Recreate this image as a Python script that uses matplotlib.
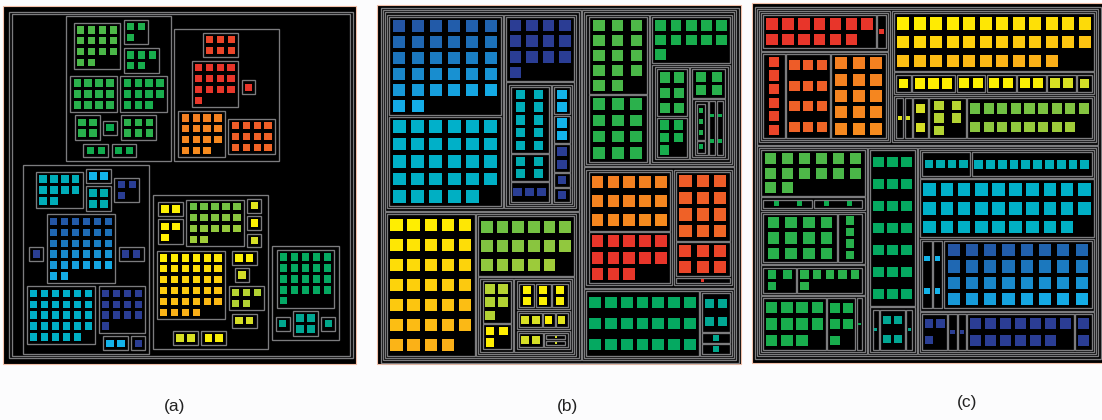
import math
import numpy as np
import matplotlib.pyplot as plt
from matplotlib.colors import LinearSegmentedColormap
from matplotlib.patches import Rectangle

# groups of items: name, number of items, colour value of first / last item
group_names = ['r13', 'r1', 'r6', 'o12', 'o15',
               'y34', 'lg17', 'yg5', 'y3', 'y2a', 'y2b', 'y2c', 'yg2a', 'y1', 'yg1a', 'yg2b', 'yg1b', 'yg1c',
               'g14', 'g12', 'g11', 'g6', 'g5', 'g4', 'g3', 'g2a', 'g2b', 'g1',
               't21', 't4', 't1a', 't1b',
               'b32', 'c29', 'i13', 'c10', 't4b', 'i3', 's2a', 's2b', 'i2', 'i1a', 'i1b']
group_counts = [13, 1, 6, 12, 15,
                34, 17, 5, 3, 2, 2, 2, 2, 1, 1, 2, 1, 1,
                14, 12, 11, 6, 5, 4, 3, 2, 2, 1,
                21, 4, 1, 1,
                32, 29, 13, 10, 4, 3, 2, 2, 2, 1, 1]
group_value_first = [0.0, 0.0, 0.035, 0.075, 0.13,
                     0.285, 0.46, 0.385, 0.285, 0.29, 0.29, 0.295, 0.345, 0.29, 0.335, 0.35, 0.35, 0.355,
                     0.485, 0.525, 0.545, 0.525, 0.55, 0.53, 0.54, 0.555, 0.56, 0.565,
                     0.585, 0.635, 0.63, 0.625,
                     0.895, 0.718, 0.94, 0.69, 0.675, 0.93, 0.78, 0.785, 0.935, 0.93, 0.935]
group_value_last = [0.005, 0.0, 0.035, 0.09, 0.15,
                    0.21, 0.41, 0.39, 0.285, 0.29, 0.29, 0.3, 0.345, 0.29, 0.335, 0.35, 0.35, 0.355,
                    0.49, 0.53, 0.55, 0.525, 0.55, 0.53, 0.54, 0.555, 0.56, 0.565,
                    0.59, 0.635, 0.63, 0.625,
                    0.79, 0.705, 0.935, 0.69, 0.675, 0.93, 0.78, 0.785, 0.935, 0.93, 0.935]

panel_labels = ['(a)', '(b)', '(c)']

counts = dict(zip(group_names, group_counts))
vfirst = dict(zip(group_names, group_value_first))
vlast = dict(zip(group_names, group_value_last))

spectrum = LinearSegmentedColormap.from_list('spectrum', [
    '#e8352a', '#ee5a28', '#f5871f', '#fbb317', '#fff100', '#d0dc2a', '#8cc63f', '#3fb54a',
    '#06a94f', '#00a79b', '#00b0c8', '#13b3ec', '#1c72ba', '#2a3f94', '#2e3192'])

LINE = '#7c7c7e'
LW = 0.95


def H(*kids, align=0.5, box=True):
    return ('h', kids, align, box)


def V(*kids, align=0.5, box=True):
    return ('v', kids, align, box)


def node_count(node):
    if isinstance(node, str):
        return counts[node]
    return sum(node_count(k) for k in node[1])


def draw_box(ax, x, y, w, h):
    ax.add_patch(Rectangle((x, y), w, h, fill=False, ec=LINE, lw=LW))


def draw_items(ax, name, x, y, w, h, frac):
    n = counts[name]
    best = None
    for c in range(1, n + 1):
        r = math.ceil(n / c)
        cell = min(w / c, h / r)
        if best is None or cell >= best[0] - 1e-9:
            best = (cell, c, r)
    cell, c, r = best
    cw, ch = w / c, h / r
    s = frac * min(cw, ch)
    vals = np.linspace(vfirst[name], vlast[name], n)
    for i in range(n):
        cx = x + (i % c + 0.5) * cw
        cy = y + (i // c + 0.5) * ch
        ax.add_patch(Rectangle((cx - s / 2, cy - s / 2), s, s, fc=spectrum(vals[i]), ec='none'))


# --- treemap (panels b and c) ---
PAD = 2.2
GAP = 1.3
LEAF_PAD = 1.0


def treemap(ax, node, x, y, w, h):
    draw_box(ax, x, y, w, h)
    if isinstance(node, str):
        draw_items(ax, node, x + LEAF_PAD, y + LEAF_PAD, w - 2 * LEAF_PAD, h - 2 * LEAF_PAD, 0.74)
        return
    kind, kids = node[0], node[1]
    ix, iy, iw, ih = x + PAD, y + PAD, w - 2 * PAD, h - 2 * PAD
    weights = [node_count(k) for k in kids]
    total = sum(weights)
    span = (iw if kind == 'h' else ih) - GAP * (len(kids) - 1)
    pos = ix if kind == 'h' else iy
    for k, wt in zip(kids, weights):
        size = span * wt / total
        if kind == 'h':
            treemap(ax, k, pos, iy, size, ih)
        else:
            treemap(ax, k, ix, pos, iw, size)
        pos += size + GAP


# --- free flow layout (panel a) ---
PITCH = 11.0
A_LEAF_PAD = 1.5
A_PAD = 4.0
A_GAP = 3.5


def natural(node):
    if isinstance(node, str):
        n = counts[node]
        c = math.ceil(math.sqrt(n))
        r = math.ceil(n / c)
        return c * PITCH + 2 * A_LEAF_PAD, r * PITCH + 2 * A_LEAF_PAD
    kind, kids, align, boxed = node
    sizes = [natural(k) for k in kids]
    if kind == 'h':
        w = sum(s[0] for s in sizes) + A_GAP * (len(kids) - 1)
        h = max(s[1] for s in sizes)
    else:
        w = max(s[0] for s in sizes)
        h = sum(s[1] for s in sizes) + A_GAP * (len(kids) - 1)
    if boxed:
        w += 2 * A_PAD
        h += 2 * A_PAD
    return w, h


def flow(ax, node, x, y, s):
    w, h = natural(node)
    if isinstance(node, str):
        draw_box(ax, x, y, w * s, h * s)
        p = A_LEAF_PAD * s
        draw_items(ax, node, x + p, y + p, w * s - 2 * p, h * s - 2 * p, 0.68)
        return
    kind, kids, align, boxed = node
    pad = A_PAD * s if boxed else 0.0
    if boxed:
        draw_box(ax, x, y, w * s, h * s)
    ix, iy = x + pad, y + pad
    iw, ih = w * s - 2 * pad, h * s - 2 * pad
    pos = ix if kind == 'h' else iy
    for k in kids:
        kw, kh = natural(k)
        if kind == 'h':
            flow(ax, k, pos, iy + (ih - kh * s) * align, s)
            pos += (kw + A_GAP) * s
        else:
            flow(ax, k, ix + (iw - kw * s) * align, pos, s)
            pos += (kh + A_GAP) * s


# layouts
A_C2 = V(H('g14', V('g3', 'g5', align=0, box=False), box=False),
         H('g12', 'g11', align=0, box=False),
         H('g4', 'g1', 'g6', box=False),
         H('g2a', 'g2b', box=False), align=0.3)
A_C3 = V('r6', H('r13', 'r1', align=0.6, box=False), H('o15', 'o12', align=0.7, box=False), align=0.4)
A_C1 = V(H('c10', V('s2a', 't4b', align=0.3, box=False), 'i3', box=False),
         H('i1a', 'b32', 'i2', align=0.6, box=False),
         H('c29', V('i13', H('s2b', 'i1b', box=False), align=1, box=False), align=0, box=False),
         align=0.6)
A_C4 = V(H(V('y2a', 'y3', align=0.3, box=False), 'lg17', V('yg1a', 'y1', 'yg1b', box=False), box=False),
         H('y34', V('y2b', 'yg1c', 'yg5', 'yg2b', align=0.3, box=False), align=0, box=False),
         H('yg2a', 'y2c', box=False), align=0.3)
A_C5 = V('t21', H('t1a', 't4', 't1b', box=False))
LAYOUT_A = V(H(A_C2, A_C3, align=1, box=False), H(A_C1, A_C4, A_C5, align=0.85, box=False),
             align=0.42, box=False)

B_C1 = H(V('b32', 'c29'), V('i13', H(V('c10', 't4b', 'i3'), V('s2a', 's2b', 'i2', 'i1a', 'i1b'))))
B_C4 = H('y34', V('lg17', H(V('yg5', 'y3'), V(H('y2a', 'y2b', 'y2c'), H('yg2a', 'y1', 'yg1a'),
                                              H('yg2b', V('yg1b', 'yg1c'))))))
B_C2 = H(V('g14', 'g12'), V('g11', H(V('g6', 'g5'), V('g4', H(V('g3', 'g1'), 'g2a', 'g2b')))))
B_C3 = H(V('o15', 'r13'), V('o12', 'r6', 'r1'))
B_C5 = H('t21', V('t4', 't1a', 't1b'))
LAYOUT_B = H(V(B_C1, B_C4), V(B_C2, B_C3, B_C5))

C_C3 = V(H('r13', 'r1'), H('r6', 'o12', 'o15'))
C_C4 = V('y34', H('y1', 'y3', 'y2a', 'y2b', 'y2c', 'yg2a', 'yg1c'), H('yg1a', 'yg1b', 'yg2b', 'yg5', 'lg17'))
C_C2 = V('g14', H('g2a', 'g2b'), H('g12', 'g4'), H('g3', 'g6'), H('g11', 'g5', 'g1'))
C_C5 = V('t21', H('t1a', 't4', 't1b'))
C_C1 = V(H('t4b', 'c10'), 'c29', H('s2a', 's2b', 'b32'), H('i3', 'i1a', 'i1b', 'i13', 'i2'))
LAYOUT_C = V(H(C_C3, C_C4), H(C_C2, C_C5, C_C1))

fig = plt.figure(figsize=(11.02, 4.2), dpi=100, facecolor='#fcfcfd')
ax = fig.add_axes([0, 0, 1, 1])
ax.set_xlim(0, 1102)
ax.set_ylim(420, 0)
ax.axis('off')

# black panel backgrounds
for (x0, y0, x1, y1) in [(3, 6, 356, 364), (377, 5, 741, 364), (752, 3, 1106, 363)]:
    ax.add_patch(Rectangle((x0, y0), x1 - x0, y1 - y0, fc='black', ec='#f2bfa8', lw=0.8))

# panel a
bx, by, bw, bh = 9.3, 11.7, 343.4, 346.6
draw_box(ax, bx, by, bw, bh)
draw_box(ax, bx + 2.4, by + 2.4, bw - 4.8, bh - 4.8)
W, Hh = natural(LAYOUT_A)
sc = min((bw - 8) / W, (bh - 8) / Hh)
flow(ax, LAYOUT_A, bx + (bw - W * sc) / 2, by + (bh - Hh * sc) / 2, sc)

# panels b and c
treemap(ax, LAYOUT_B, 380.5, 8.0, 358.0, 354.5)
treemap(ax, LAYOUT_C, 754.5, 6.5, 346.0, 352.0)

for lab, (lx, ly) in zip(panel_labels, [(175, 406), (568, 407), (967, 402)]):
    ax.text(lx, ly, lab, ha='center', va='center', fontsize=12.5,
            family='Liberation Sans', color='#222222')

fig.savefig('out.png', dpi=100, facecolor=fig.get_facecolor())
